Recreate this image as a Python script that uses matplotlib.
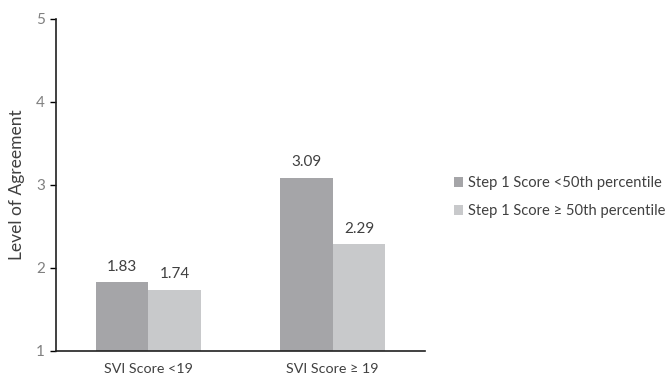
import numpy as np
import matplotlib.pyplot as plt

plt.rcParams['font.family'] = ['Lato', 'DejaVu Sans']

# data
categories = ['SVI Score <19', 'SVI Score \u2265 19']
below_50 = [1.83, 3.09]
above_50 = [1.74, 2.29]
series_names = ['Step 1 Score <50th percentile', 'Step 1 Score \u2265 50th percentile']

dark = '#a5a5a8'
light = '#c8c9cb'
text_col = '#404040'

fig = plt.figure(figsize=(6.68, 3.79), dpi=100)
ax = fig.add_axes([0.0838, 0.0739, 0.5524, 0.876])

x = np.arange(len(categories))
w = 0.285
b1 = ax.bar(x - w / 2, np.array(below_50) - 1, w, bottom=1, color=dark, label=series_names[0])
b2 = ax.bar(x + w / 2, np.array(above_50) - 1, w, bottom=1, color=light, label=series_names[1])

# value labels above the bars
for xs, vals in [(x - w / 2, below_50), (x + w / 2, above_50)]:
    for xi, v in zip(xs, vals):
        ax.text(xi, v + 0.1, f'{v:.2f}', ha='center', va='bottom', fontsize=11, color=text_col)

ax.set_xlim(-0.5, 1.5)
ax.set_ylim(1, 5)
ax.set_yticks([1, 2, 3, 4, 5])
ax.set_xticks(x)
ax.set_xticklabels(categories, fontsize=10.3, color=text_col)
ax.tick_params(axis='x', length=0, pad=9)
ax.tick_params(axis='y', length=4, width=1, labelsize=11, labelcolor='#808080', pad=4)
ax.set_ylabel('Level of Agreement', fontsize=12.5, color=text_col, labelpad=8)

for s in ['top', 'right']:
    ax.spines[s].set_visible(False)
for s in ['left', 'bottom']:
    ax.spines[s].set_color('#202020')
    ax.spines[s].set_linewidth(1.2)

fig.legend(handles=[b1, b2], labels=series_names, loc='center left',
           bbox_to_anchor=(0.668, 0.48), frameon=False, fontsize=10.6,
           handlelength=0.66, handleheight=0.66, handletextpad=0.35,
           labelspacing=1.0, labelcolor=text_col, borderpad=0)

fig.savefig('out.png', dpi=100)
